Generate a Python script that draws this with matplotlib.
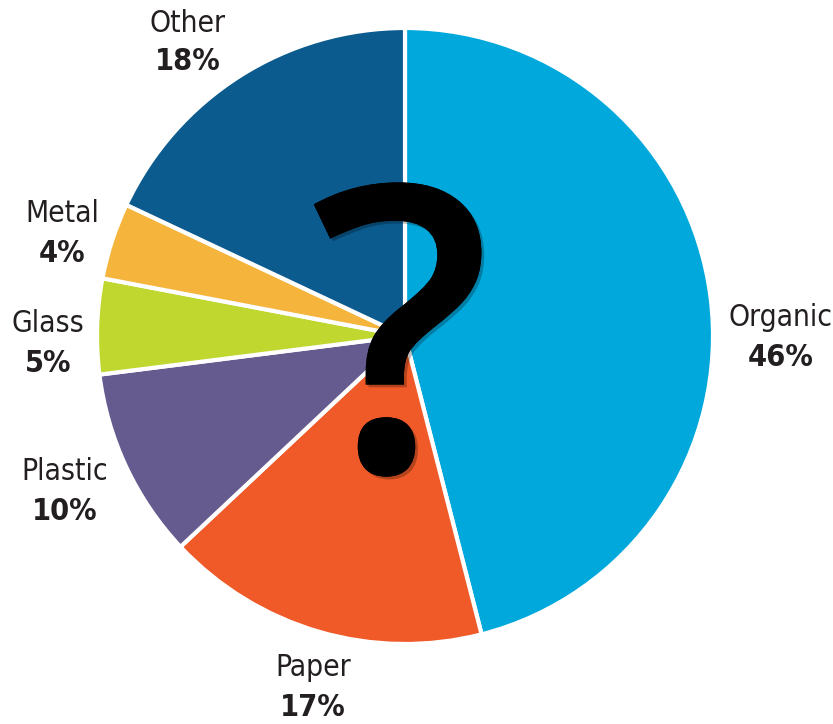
import matplotlib
matplotlib.use('Agg')
import numpy as np
import matplotlib.pyplot as plt
import matplotlib.patheffects as pe

categories = ['Organic', 'Paper', 'Plastic', 'Glass', 'Metal', 'Other']
shares = [46, 17, 10, 5, 4, 18]
colors = ['#00a8dc', '#ef5a28', '#655b8f', '#c0d72f', '#f5b53d', '#0b5b8e']

# label anchors (pixel space, y from top) - layout only
label_pos = [(781, 337), (313, 687), (65, 491), (48, 343), (62, 233), (188, 42)]

W, H = 833, 724
fig = plt.figure(figsize=(W / 100, H / 100), dpi=100)
ax = fig.add_axes([0, 0, 1, 1])

cx, cy, r = 405, H - 336, 308
ax.pie(shares, colors=colors, startangle=90, counterclock=False,
       center=(cx, cy), radius=r, frame=True,
       wedgeprops=dict(edgecolor='white', linewidth=3))
ax.set_xlim(0, W); ax.set_ylim(0, H)
ax.set_aspect('equal'); ax.axis('off')

tc = '#231f20'
for name, val, (px, py) in zip(categories, shares, label_pos):
    ax.text(px, H - py + 19, name, ha='center', va='center', fontsize=21.5,
            color=tc, family='DejaVu Sans', fontstretch='condensed')
    ax.text(px, H - py - 20, f'{val}%', ha='center', va='center', fontsize=22,
            fontweight='bold', color=tc, family='DejaVu Sans',
            fontstretch='condensed')

q = ax.text(401, H - 367, '?', ha='center', va='center', fontsize=287,
            fontweight='semibold', color='black', family=['Open Sans', 'DejaVu Sans'])
q.set_path_effects([pe.withSimplePatchShadow(offset=(2, -2), alpha=0.25),
                    pe.Normal()])

fig.savefig('out.png', dpi=100)
